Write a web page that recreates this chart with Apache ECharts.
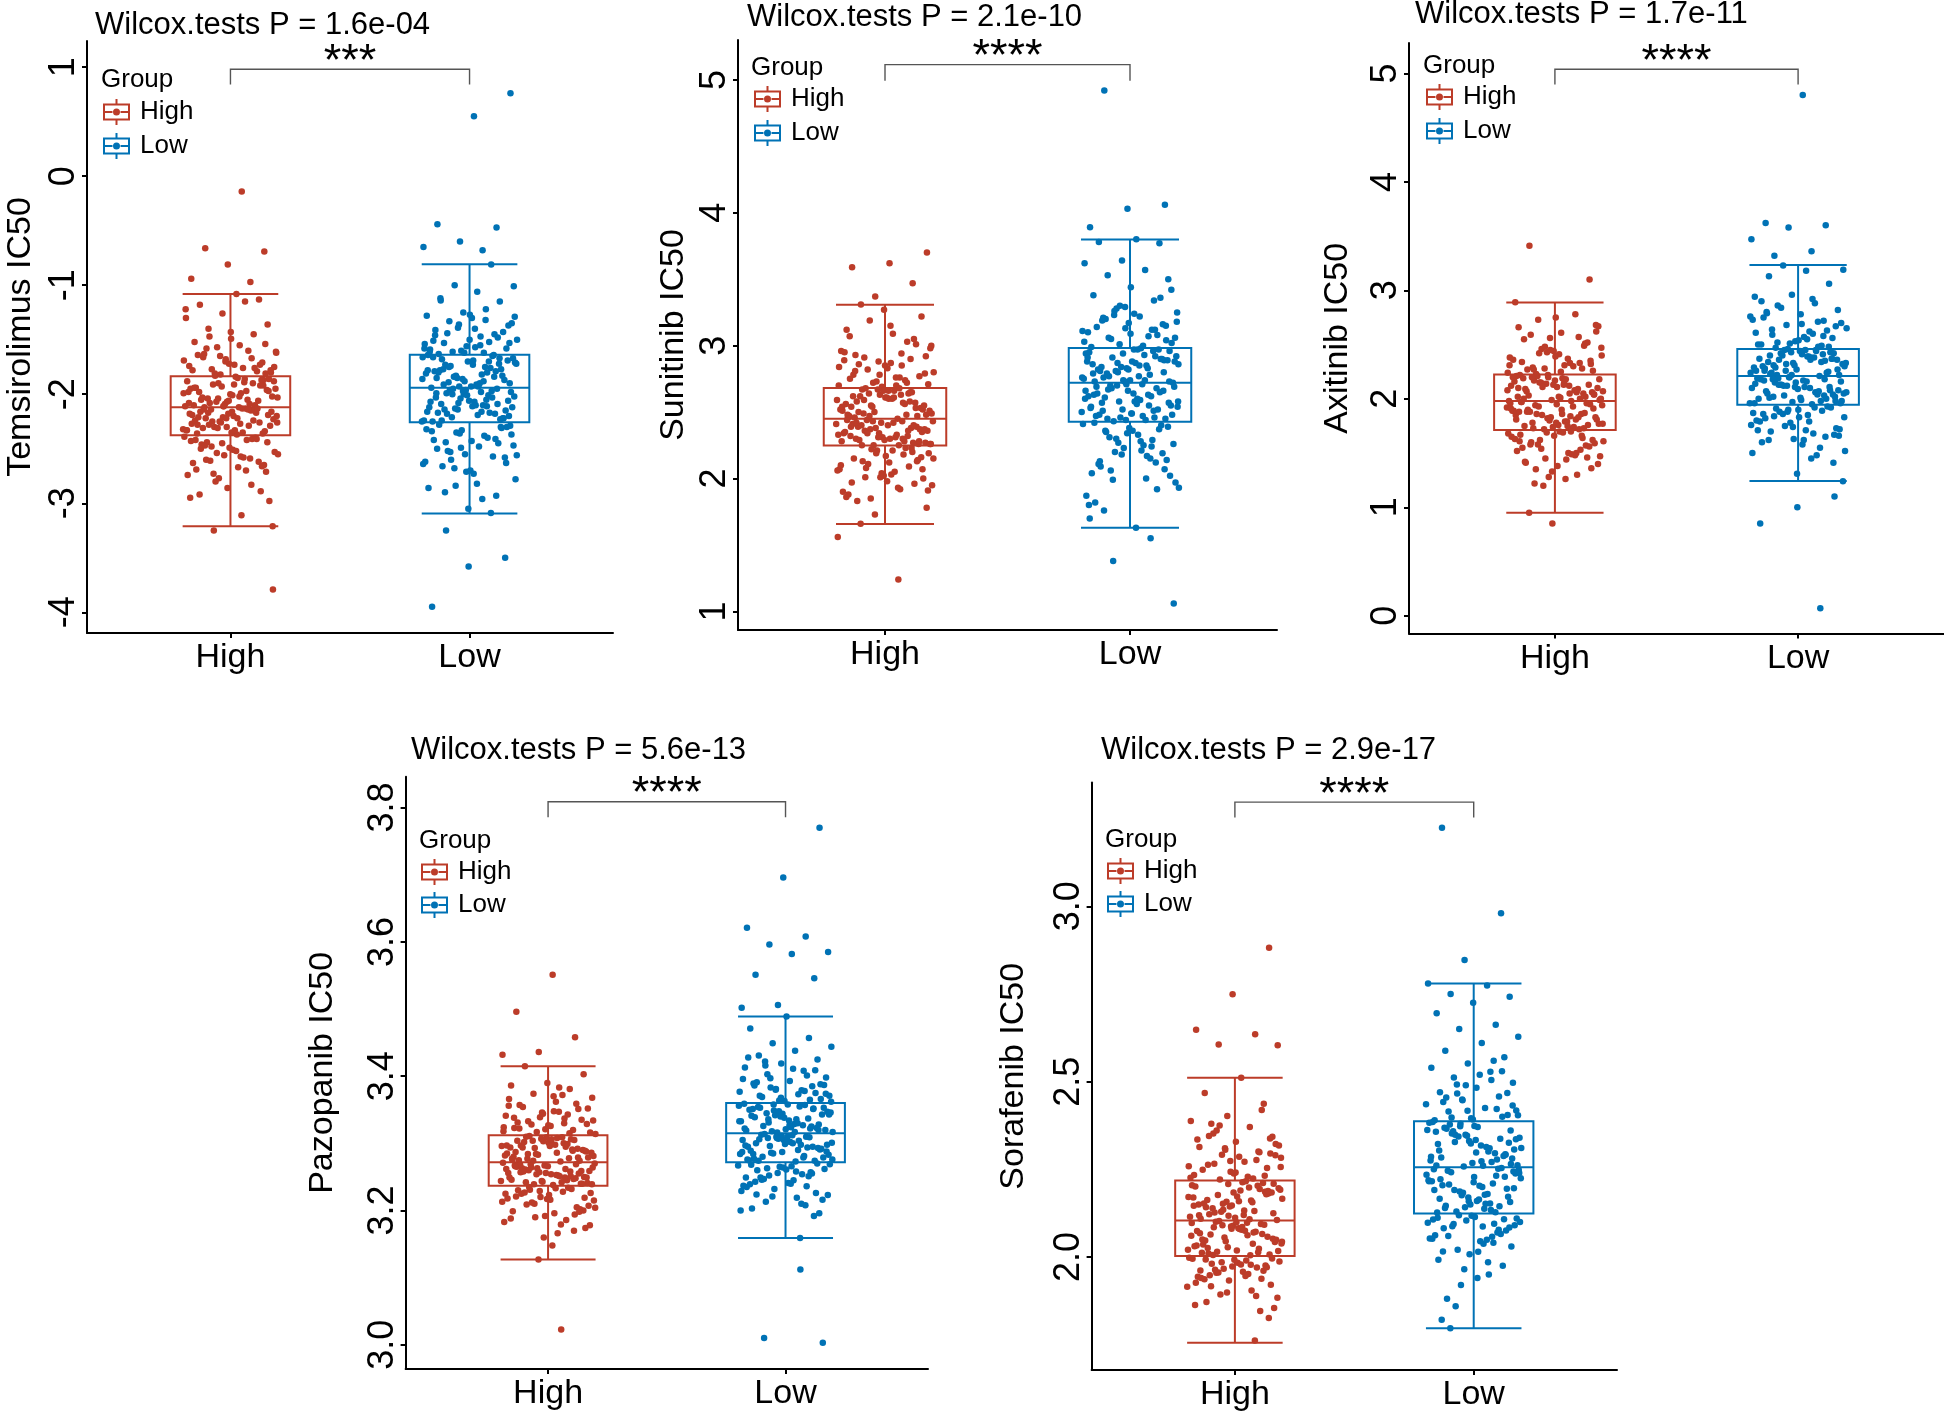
<!DOCTYPE html>
<html><head><meta charset="utf-8">
<script src="https://cdn.jsdelivr.net/npm/echarts@6/dist/echarts.min.js"></script>
<style>html,body{margin:0;padding:0;background:#fff}#c{width:1944px;height:1415px}</style>
</head><body><div id="c"></div>
<script>
// ---------- DATA ----------
const groups = ['High', 'Low'];
const drugs = ['Temsirolimus', 'Sunitinib', 'Axitinib', 'Pazopanib', 'Sorafenib'];
const pValues = ['1.6e-04', '2.1e-10', '1.7e-11', '5.6e-13', '2.9e-17'];
const stars = ['***', '****', '****', '****', '****'];

const temTicks = [-4, -3, -2, -1, 0, 1];
const sunTicks = [1, 2, 3, 4, 5];
const axiTicks = [0, 1, 2, 3, 4, 5];
const pazTicks = [3.0, 3.2, 3.4, 3.6, 3.8];
const sorTicks = [2.0, 2.5, 3.0];

// box stats: [min whisker, Q1, median, Q3, max whisker]
const temBox = [[-3.21, -2.377, -2.12, -1.834, -1.08], [-3.094, -2.257, -1.94, -1.638, -0.808]];
const sunBox = [[1.657, 2.249, 2.45, 2.682, 3.308], [1.629, 2.428, 2.72, 2.983, 3.798]];
const axiBox = [[0.951, 1.713, 1.979, 2.225, 2.889], [1.243, 1.945, 2.21, 2.46, 3.234]];
const pazBox = [[3.127, 3.237, 3.272, 3.312, 3.415], [3.159, 3.272, 3.315, 3.360, 3.489]];
const sorBox = [[1.756, 2.003, 2.104, 2.218, 2.511], [1.797, 2.124, 2.256, 2.387, 2.780]];

const temHigh = [-0.14,-0.66,-0.69,-0.81,-0.94,-0.97,-3.25,-3.79,
-1.08,-1.18,-1.13,-1.26,-1.30,-1.15,-1.40,-1.36,-1.49,-1.52,-1.45,-1.57,-1.62,-1.55,-1.66,-1.71,-1.68,-1.74,-1.60,-1.77,-1.80,-1.73,-1.64,-1.79,-1.82,-1.69,-1.76,-1.58,-1.81,-1.72,-1.78,-1.67,-1.83,-1.75,
-1.85,-2.05,-1.92,-2.11,-1.88,-1.97,-2.08,-1.86,-2.01,-1.94,-2.10,-1.90,-2.03,-1.99,-2.12,-1.87,-2.07,-1.95,-2.09,-1.91,-2.02,-1.84,-1.98,-2.06,-1.93,-2.11,-1.89,-2.04,-1.96,-2.00,-2.10,-1.90,-2.07,-1.95,-2.12,-2.03,-1.87,-2.09,-1.98,-2.05,
-2.14,-2.29,-2.20,-2.36,-2.17,-2.25,-2.32,-2.13,-2.22,-2.34,-2.18,-2.27,-2.15,-2.30,-2.23,-2.37,-2.16,-2.26,-2.21,-2.33,-2.13,-2.28,-2.19,-2.35,-2.24,-2.15,-2.31,-2.20,-2.27,-2.14,-2.36,-2.22,-2.18,-2.29,-2.25,-2.16,-2.33,-2.21,-2.13,-2.26,
-2.39,-2.58,-2.44,-2.71,-2.49,-2.63,-2.41,-2.80,-2.53,-2.67,-2.46,-2.89,-2.56,-2.74,-2.42,-2.61,-2.98,-2.51,-2.69,-2.40,-2.77,-2.55,-3.11,-2.47,-2.65,-2.86,-2.43,-2.59,-2.73,-3.21,-2.52,-2.92,-2.62,-2.45,
-1.22,-1.86,-2.17,-2.44,-1.43,-1.94,-2.24,-2.54,-1.61,-2.02,-2.31,-2.66,-1.70,-2.08,-2.14,-2.48,-1.78,-1.91,-2.28,-2.41,-1.65,-1.99,-2.35,-2.60,
-1.54,-2.06,-2.19,-2.83,-1.81,-1.88,-2.22,-2.50,-1.73,-2.11,-2.33,-2.70,-1.47,-1.97,-2.16,-2.42,-1.76,-2.04,-2.26,-2.57,-1.63,-1.92,-2.30,-2.95];
const temLow = [0.76,0.55,-0.44,-0.47,-0.60,-0.65,-0.68,-3.25,-3.50,-3.58,-3.95,
-0.81,-1.00,-1.01,-1.06,-1.14,-1.15,-1.25,-1.28,-1.22,-1.33,-1.37,-1.30,-1.41,-1.45,-1.39,-1.50,-1.47,-1.53,-1.43,-1.56,-1.59,-1.52,-1.61,-1.35,-1.57,-1.63,-1.48,-1.60,-1.54,-1.62,-1.44,-1.58,-1.27,-1.51,
-1.65,-1.83,-1.71,-1.92,-1.68,-1.77,-1.88,-1.64,-1.80,-1.74,-1.90,-1.69,-1.85,-1.79,-1.93,-1.66,-1.82,-1.73,-1.87,-1.70,-1.94,-1.76,-1.84,-1.67,-1.91,-1.78,-1.72,-1.86,-1.81,-1.75,-1.89,-1.69,-1.93,-1.79,-1.64,-1.85,-1.72,-1.90,-1.77,-1.83,
-1.96,-2.12,-2.01,-2.21,-1.98,-2.07,-2.17,-1.95,-2.04,-2.24,-2.10,-1.99,-2.15,-2.06,-2.25,-1.97,-2.13,-2.02,-2.19,-2.09,-2.23,-2.00,-2.16,-2.05,-1.96,-2.20,-2.11,-2.03,-2.18,-2.08,-2.25,-1.98,-2.14,-2.22,-2.01,-2.07,-2.17,-1.95,-2.12,-2.10,
-2.28,-2.45,-2.33,-2.62,-2.38,-2.52,-2.30,-2.70,-2.42,-2.57,-2.35,-2.78,-2.48,-2.66,-2.31,-2.55,-2.86,-2.40,-2.60,-2.29,-2.73,-2.50,-2.93,-2.36,-2.64,-2.96,-2.44,-2.58,-3.05,-2.34,-3.09,-2.68,-2.47,-2.82,
-1.12,-1.67,-1.97,-2.32,-1.32,-1.75,-2.06,-2.43,-1.46,-1.84,-2.14,-2.56,-1.55,-1.91,-2.22,-2.71,-1.61,-1.70,-2.00,-2.37,-1.40,-1.80,-2.09,-2.49,
-1.58,-1.88,-2.18,-2.63,-1.50,-1.66,-2.03,-2.84,-1.29,-1.93,-2.24,-2.30,-1.62,-1.78,-2.11,-2.53,-1.53,-1.73,-1.99,-2.41,-1.36,-1.86,-2.16,-2.90];

const sunHigh = [3.70,3.62,3.59,3.47,3.37,1.56,1.24,
3.31,3.22,3.27,3.12,3.03,3.19,2.98,3.09,2.93,3.01,2.88,2.96,2.85,2.91,2.79,2.83,2.75,2.90,2.72,2.80,2.70,2.86,2.77,2.69,2.95,2.74,2.82,2.71,2.87,2.78,3.05,2.73,2.84,2.76,
2.67,2.52,2.61,2.46,2.64,2.55,2.49,2.66,2.58,2.47,2.63,2.51,2.57,2.68,2.48,2.60,2.54,2.65,2.50,2.59,2.45,2.62,2.53,2.66,2.56,2.48,2.64,2.51,2.60,2.46,2.57,2.67,2.52,2.63,2.49,2.55,2.61,2.47,2.58,2.54,
2.43,2.31,2.39,2.26,2.42,2.34,2.28,2.44,2.36,2.30,2.41,2.27,2.38,2.33,2.25,2.40,2.35,2.29,2.44,2.32,2.37,2.26,2.42,2.30,2.39,2.34,2.28,2.43,2.36,2.27,2.40,2.32,2.38,2.25,2.41,2.33,2.29,2.37,2.31,2.35,
2.23,2.11,2.19,2.03,2.15,1.96,2.21,2.07,1.92,2.13,2.00,2.17,1.88,2.09,2.22,1.95,2.05,1.83,2.14,2.01,1.90,2.18,2.08,1.78,2.12,1.97,2.20,1.73,2.06,1.93,1.66,2.16,2.02,1.86,
2.72,2.47,2.26,2.21,2.81,2.53,2.31,2.10,2.94,2.59,2.37,1.98,3.07,2.65,2.43,2.15,2.76,2.50,2.28,2.04,2.89,2.56,2.34,1.91,
3.15,2.62,2.40,2.19,2.70,2.68,2.25,2.07,2.85,2.48,2.36,1.85,3.00,2.61,2.42,2.13,2.78,2.54,2.30,2.01,2.92,2.66,2.39,2.23];
const sunLow = [4.92,4.06,4.03,3.89,1.55,1.38,1.06,
3.80,3.78,3.77,3.64,3.62,3.57,3.53,3.50,3.44,3.38,3.34,3.28,3.25,3.22,3.19,3.16,3.13,3.10,3.07,3.05,3.02,3.24,3.14,3.08,3.30,3.11,3.00,3.20,3.04,3.17,2.99,3.12,3.26,3.06,
2.97,2.81,2.90,2.74,2.94,2.85,2.77,2.96,2.88,2.73,2.92,2.80,2.86,2.98,2.76,2.89,2.83,2.95,2.78,2.91,2.72,2.87,2.82,2.97,2.84,2.75,2.93,2.79,2.89,2.74,2.86,2.96,2.81,2.92,2.77,2.84,2.90,2.73,2.88,2.83,
2.70,2.55,2.64,2.47,2.68,2.58,2.50,2.71,2.61,2.45,2.66,2.53,2.62,2.43,2.69,2.56,2.48,2.65,2.52,2.60,2.44,2.67,2.57,2.49,2.63,2.46,2.70,2.54,2.59,2.51,2.66,2.44,2.62,2.55,2.68,2.48,2.58,2.64,2.52,2.46,
2.41,2.25,2.35,2.14,2.38,2.04,2.29,2.20,1.97,2.33,2.09,2.40,2.23,1.87,2.17,2.31,2.02,2.36,1.82,2.12,2.27,1.93,2.21,1.76,2.07,2.34,1.70,2.15,1.99,2.26,1.63,2.11,2.37,2.18,
3.03,2.74,2.45,2.39,3.09,2.79,2.51,2.30,3.18,2.85,2.57,2.19,3.29,2.91,2.63,2.06,3.42,2.97,2.69,1.92,3.01,2.76,2.47,2.36,
3.15,2.82,2.54,2.24,3.23,2.88,2.60,2.13,3.36,2.94,2.66,2.00,3.06,2.73,2.49,2.42,3.12,2.87,2.58,2.28,3.21,2.80,2.71,1.80];

const axiHigh = [3.41,3.10,0.85,
2.89,2.78,2.73,2.67,2.61,2.55,2.49,2.43,2.38,2.33,2.29,2.26,2.75,2.66,2.57,2.46,2.40,2.31,2.27,2.52,2.45,2.36,2.30,2.23,2.62,2.41,2.34,2.28,2.48,2.24,2.37,2.59,2.32,2.44,
2.21,2.06,2.15,1.99,2.19,2.09,2.02,2.20,2.12,1.98,2.17,2.04,2.11,2.22,2.00,2.14,2.07,2.18,2.03,2.13,1.99,2.16,2.08,2.21,2.10,2.01,2.19,2.05,2.14,1.98,2.12,2.20,2.06,2.17,2.02,2.09,2.15,2.00,2.13,2.07,
1.96,1.80,1.89,1.73,1.94,1.83,1.76,1.97,1.86,1.72,1.92,1.79,1.88,1.95,1.74,1.85,1.81,1.93,1.77,1.90,1.75,1.87,1.82,1.96,1.84,1.73,1.91,1.78,1.88,1.72,1.85,1.94,1.79,1.90,1.76,1.83,1.89,1.74,1.86,1.81,
1.70,1.55,1.64,1.45,1.68,1.50,1.60,1.36,1.66,1.52,1.30,1.62,1.47,1.69,1.41,1.57,1.28,1.65,1.49,1.22,1.59,1.38,1.67,1.53,1.20,1.61,1.44,0.95,1.56,1.33,1.63,1.48,1.58,1.40,
2.25,2.00,1.73,1.69,2.31,2.05,1.78,1.62,2.39,2.10,1.83,1.54,2.47,2.15,1.88,1.46,2.56,2.20,1.93,1.35,2.68,2.02,1.97,1.66,
2.28,2.08,1.75,1.58,2.35,2.13,1.81,1.50,2.42,2.18,1.86,1.42,2.51,2.22,1.91,1.70,2.27,2.04,1.95,1.61,2.33,2.11,1.77,1.26];
const axiLow = [4.80,3.62,3.60,3.58,3.47,3.36,3.32,1.10,1.00,0.85,0.07,
3.23,3.19,3.18,3.13,3.06,2.96,2.94,2.88,2.86,2.82,2.78,2.75,2.72,2.68,2.65,2.62,2.59,2.56,2.53,2.50,2.48,2.84,2.70,2.57,2.79,2.63,2.51,2.73,2.60,2.47,2.67,2.54,2.90,2.49,
2.45,2.30,2.39,2.23,2.43,2.33,2.26,2.44,2.36,2.22,2.41,2.28,2.35,2.46,2.24,2.38,2.31,2.42,2.27,2.37,2.21,2.40,2.32,2.45,2.34,2.25,2.43,2.29,2.38,2.22,2.36,2.44,2.30,2.41,2.26,2.33,2.39,2.24,2.37,2.31,
2.19,2.04,2.13,1.96,2.17,2.07,2.00,2.20,2.10,1.95,2.15,2.02,2.09,2.18,1.98,2.12,2.05,2.16,2.01,2.11,1.97,2.14,2.06,2.19,2.08,1.99,2.17,2.03,2.12,1.96,2.10,2.18,2.04,2.15,2.00,2.07,2.13,1.98,2.11,2.05,
1.93,1.78,1.87,1.68,1.91,1.73,1.83,1.60,1.89,1.75,1.52,1.85,1.70,1.92,1.63,1.80,1.48,1.88,1.72,1.58,1.82,1.65,1.90,1.76,1.45,1.84,1.67,1.31,1.79,1.55,1.86,1.24,1.71,1.62,
2.48,2.22,1.96,1.92,2.52,2.27,2.01,1.86,2.58,2.32,2.06,1.79,2.64,2.37,2.11,1.71,2.71,2.42,2.16,1.62,2.80,2.24,2.20,1.50,
2.92,2.29,1.98,1.90,2.50,2.34,2.03,1.83,2.55,2.40,2.08,1.74,2.61,2.45,2.13,1.66,2.69,2.26,2.18,1.88,2.76,2.36,2.02,1.41];

const pazHigh = [3.551,3.496,3.458,3.436,3.432,3.023,
3.415,3.403,3.390,3.386,3.381,3.374,3.368,3.362,3.357,3.351,3.346,3.341,3.337,3.333,3.329,3.326,3.323,3.320,3.317,3.314,3.383,3.354,3.335,3.321,3.366,3.343,3.328,3.316,3.348,3.331,3.359,3.339,3.324,3.372,
3.310,3.289,3.301,3.276,3.306,3.293,3.281,3.308,3.297,3.274,3.303,3.285,3.295,3.311,3.279,3.299,3.287,3.305,3.283,3.296,3.273,3.302,3.290,3.309,3.294,3.278,3.304,3.286,3.298,3.275,3.292,3.307,3.282,3.300,3.277,3.288,3.296,3.280,3.291,3.284,
3.270,3.252,3.263,3.240,3.267,3.256,3.245,3.269,3.259,3.238,3.265,3.248,3.257,3.271,3.242,3.261,3.250,3.266,3.246,3.258,3.239,3.264,3.253,3.268,3.255,3.243,3.262,3.249,3.260,3.241,3.254,3.267,3.247,3.263,3.244,3.251,3.258,3.240,3.256,3.249,
3.234,3.212,3.226,3.196,3.230,3.205,3.220,3.183,3.228,3.209,3.174,3.223,3.199,3.232,3.190,3.215,3.166,3.225,3.202,3.160,3.218,3.186,3.231,3.207,3.148,3.221,3.194,3.127,3.213,3.179,3.227,3.200,3.217,3.188,
3.315,3.274,3.239,3.233,3.322,3.279,3.244,3.225,3.330,3.284,3.249,3.216,3.338,3.289,3.254,3.204,3.347,3.294,3.259,3.192,3.356,3.299,3.264,3.178,
3.370,3.304,3.269,3.229,3.318,3.309,3.242,3.219,3.327,3.277,3.251,3.210,3.334,3.286,3.257,3.198,3.344,3.297,3.262,3.235,3.352,3.306,3.266,3.170];
const pazLow = [3.770,3.696,3.621,3.608,3.596,3.585,3.582,3.551,3.546,3.506,3.502,3.112,3.010,3.003,
3.489,3.471,3.457,3.449,3.444,3.438,3.431,3.425,3.419,3.413,3.408,3.403,3.398,3.393,3.389,3.385,3.381,3.377,3.373,3.369,3.366,3.363,3.428,3.401,3.383,3.371,3.411,3.391,3.375,3.364,3.396,3.379,3.416,3.387,
3.358,3.341,3.322,3.349,3.317,3.336,3.353,3.328,3.344,3.319,3.357,3.331,3.347,3.324,3.339,3.352,3.316,3.333,3.355,3.326,3.343,3.321,3.350,3.337,3.318,3.346,3.329,3.354,3.323,3.340,3.359,3.327,3.345,3.320,3.334,3.351,3.325,3.342,3.356,3.330,
3.313,3.291,3.305,3.276,3.310,3.296,3.283,3.312,3.300,3.274,3.307,3.287,3.298,3.314,3.279,3.303,3.289,3.309,3.285,3.301,3.273,3.306,3.293,3.311,3.297,3.281,3.308,3.288,3.302,3.277,3.295,3.310,3.284,3.304,3.280,3.292,3.299,3.275,3.294,3.286,
3.269,3.245,3.260,3.226,3.265,3.237,3.254,3.213,3.262,3.241,3.203,3.257,3.232,3.267,3.219,3.249,3.196,3.264,3.235,3.208,3.252,3.223,3.266,3.243,3.192,3.256,3.229,3.159,3.247,3.216,3.261,3.239,3.251,3.221,
3.362,3.317,3.274,3.270,3.368,3.322,3.279,3.263,3.374,3.327,3.284,3.255,3.380,3.333,3.290,3.246,3.388,3.338,3.295,3.236,3.397,3.343,3.300,3.224,
3.409,3.348,3.305,3.210,3.422,3.353,3.310,3.268,3.365,3.358,3.276,3.258,3.371,3.320,3.287,3.249,3.378,3.336,3.298,3.240,3.386,3.351,3.308,3.200];

const sorHigh = [2.882,2.749,2.648,2.635,2.606,2.604,
2.511,2.468,2.437,2.402,2.388,2.371,2.352,2.343,2.329,2.314,2.301,2.292,2.283,2.272,2.263,2.254,2.243,2.234,2.224,2.361,2.322,2.286,2.249,2.419,2.306,2.259,2.229,2.380,2.295,2.238,2.335,2.277,2.221,2.318,
2.213,2.142,2.186,2.118,2.205,2.161,2.127,2.209,2.173,2.109,2.194,2.135,2.166,2.216,2.122,2.181,2.147,2.201,2.131,2.177,2.106,2.190,2.153,2.211,2.158,2.115,2.198,2.139,2.184,2.112,2.150,2.203,2.129,2.192,2.120,2.163,2.179,2.144,2.170,2.156,
2.101,2.043,2.082,2.012,2.094,2.056,2.021,2.098,2.064,2.007,2.089,2.033,2.072,2.103,2.017,2.078,2.047,2.092,2.028,2.061,2.005,2.085,2.052,2.099,2.068,2.024,2.091,2.039,2.075,2.010,2.058,2.087,2.031,2.070,2.015,2.049,2.080,2.036,2.066,2.045,
1.998,1.952,1.981,1.921,1.992,1.944,1.970,1.893,1.987,1.958,1.872,1.976,1.933,1.995,1.905,1.964,1.855,1.984,1.940,1.846,1.967,1.915,1.990,1.948,1.826,1.973,1.927,1.762,1.956,1.884,1.979,1.937,1.961,1.899,
2.226,2.108,2.006,1.996,2.241,2.119,2.014,1.985,2.257,2.133,2.026,1.971,2.274,2.146,2.038,1.955,2.290,2.159,2.050,1.938,2.310,2.171,2.062,1.917,
2.338,2.184,2.074,1.889,2.375,2.196,2.086,1.993,2.232,2.208,2.097,1.978,2.266,2.125,2.019,1.962,2.299,2.152,2.044,1.946,2.345,2.188,2.081,1.863];
const sorLow = [3.224,2.980,2.847,
2.780,2.774,2.750,2.742,2.725,2.695,2.662,2.650,2.628,2.610,2.588,2.570,2.552,2.540,2.528,2.512,2.497,2.483,2.470,2.458,2.447,2.436,2.425,2.415,2.405,2.396,2.390,2.560,2.466,2.418,2.520,2.442,2.400,2.490,
2.383,2.301,2.352,2.265,2.374,2.322,2.278,2.380,2.340,2.260,2.366,2.292,2.331,2.385,2.271,2.349,2.307,2.371,2.284,2.337,2.258,2.362,2.314,2.378,2.326,2.268,2.357,2.296,2.344,2.262,2.318,2.369,2.288,2.346,2.275,2.310,2.359,2.281,2.334,2.304,
2.252,2.176,2.225,2.138,2.246,2.195,2.150,2.250,2.210,2.130,2.238,2.164,2.205,2.254,2.142,2.219,2.180,2.242,2.157,2.213,2.127,2.232,2.187,2.248,2.200,2.146,2.229,2.170,2.216,2.134,2.191,2.244,2.160,2.222,2.145,2.183,2.235,2.152,2.207,2.172,
2.118,2.062,2.095,2.021,2.110,2.045,2.082,1.975,2.104,2.053,1.950,2.088,2.030,2.114,1.992,2.070,1.920,2.100,2.038,1.881,2.076,2.008,2.107,2.058,1.860,2.091,2.015,1.821,2.066,1.965,2.098,2.049,1.797,2.084,
2.392,2.261,2.128,2.119,2.404,2.273,2.140,2.108,2.417,2.286,2.153,2.094,2.432,2.298,2.166,2.078,2.449,2.311,2.178,2.060,2.468,2.324,2.191,2.041,
2.492,2.336,2.203,2.016,2.530,2.349,2.216,1.985,2.398,2.361,2.228,2.112,2.422,2.373,2.240,2.087,2.455,2.293,2.159,2.052,2.505,2.328,2.196,1.940];

// ---------- LAYOUT / STYLE ----------
const RED = '#BC3C29', BLUE = '#0072B5';
const COLORS = [RED, BLUE];
const FONT = '"Liberation Sans", Arial, Helvetica, sans-serif';
const GLYPH = 'path://M0 4.5H27V21.5H0Z M2 6.5V19.5H25V6.5Z M12.5 0H14.5V4.5H12.5Z M12.5 21.5H14.5V26H12.5Z M2 12H9.5V14H2Z M17.5 12H25V14H17.5Z M10 13A3.5 3.5 0 1 0 17 13A3.5 3.5 0 1 0 10 13Z';

const panelData = [
  {vals: [temHigh, temLow], box: temBox, ticks: temTicks, dec: 0},
  {vals: [sunHigh, sunLow], box: sunBox, ticks: sunTicks, dec: 0},
  {vals: [axiHigh, axiLow], box: axiBox, ticks: axiTicks, dec: 0},
  {vals: [pazHigh, pazLow], box: pazBox, ticks: pazTicks, dec: 1},
  {vals: [sorHigh, sorLow], box: sorBox, ticks: sorTicks, dec: 1}
];
const layouts = [
  {grid:{left:87, top:41, width:526, height:592}, y:[-4.19, 1.24], nameGap:49, title:[95, 10], legend:[103, 99, 8], group:[101, 67], bracket:[0.981, 0.842]},
  {grid:{left:738, top:40, width:539, height:590}, y:[0.86, 5.30], nameGap:47, title:[747, 2.5], legend:[754, 86, 8], group:[751, 55], bracket:[5.115, 4.994]},
  {grid:{left:1409, top:43, width:535, height:590.5}, y:[-0.163, 5.28], nameGap:54, title:[1415, -0.5], legend:[1426, 84, 8], group:[1423, 53], bracket:[5.038, 4.898]},
  {grid:{left:405.6, top:776.7, width:522.4, height:592.3}, y:[2.964, 3.846], nameGap:66, title:[411, 735], legend:[421, 859, 7], group:[419, 828], bracket:[3.8086, 3.7855]},
  {grid:{left:1091.6, top:782.5, width:525.4, height:587.5}, y:[1.678, 3.353], nameGap:61, title:[1101, 735.5], legend:[1107, 858, 7], group:[1105, 827], bracket:[3.297, 3.253]}
];

function jitter(i, g) {
  const u = ((i + 1) * 0.6180339887498949 + g * 0.31) % 1;
  return (u - 0.5) * 0.4;
}

const option = {animation: false, backgroundColor: '#fff', grid: [], xAxis: [], yAxis: [], series: [], title: [], legend: []};

panelData.forEach((pd, k) => {
  const L = layouts[k];
  option.grid.push(Object.assign({outerBoundsMode: 'none', containLabel: false}, L.grid));
  option.xAxis.push({
    type: 'value', gridIndex: k, min: 0.4, max: 2.6,
    axisLine: {onZero: false, lineStyle: {color: '#000', width: 2}},
    axisTick: {customValues: [1, 2], length: 5, lineStyle: {color: '#000', width: 2}},
    axisLabel: {customValues: [1, 2], formatter: v => groups[Math.round(v) - 1] || '', fontSize: 34, fontFamily: FONT, color: '#000', margin: 8},
    splitLine: {show: false}
  });
  option.yAxis.push({
    type: 'value', gridIndex: k, min: L.y[0], max: L.y[1],
    name: drugs[k] + ' IC50', nameLocation: 'middle', nameRotate: 90, nameGap: L.nameGap,
    nameTextStyle: {fontSize: 34, fontFamily: FONT, color: '#000'},
    axisLine: {show: true, onZero: false, lineStyle: {color: '#000', width: 2}},
    axisTick: {show: true, customValues: pd.ticks, length: 5, lineStyle: {color: '#000', width: 2}},
    axisLabel: {customValues: pd.ticks, rotate: 90, fontSize: 36, fontFamily: FONT, color: '#000', margin: 5,
      formatter: v => Number(v).toFixed(pd.dec)},
    splitLine: {show: false}
  });
  option.title.push({text: 'Wilcox.tests P = ' + pValues[k], left: L.title[0], top: L.title[1], padding: 0,
    textStyle: {fontSize: 31, fontWeight: 'normal', color: '#000', fontFamily: FONT, lineHeight: 30}});
  option.title.push({text: 'Group', left: L.group[0], top: L.group[1], padding: 0,
    textStyle: {fontSize: 26, fontWeight: 'normal', color: '#000', fontFamily: FONT, lineHeight: 26}});
  option.legend.push({
    left: L.legend[0], top: L.legend[1], orient: 'vertical', padding: 0, itemGap: L.legend[2],
    itemWidth: 27, itemHeight: 26, selectedMode: false,
    textStyle: {fontSize: 26, fontFamily: FONT, color: '#000', lineHeight: 26, padding: [0, 0, 0, 5]},
    data: groups.map((g, gi) => ({name: g, icon: GLYPH, itemStyle: {color: COLORS[gi], borderWidth: 0}}))
  });

  groups.forEach((g, gi) => {
    const col = COLORS[gi];
    // jittered points
    option.series.push({
      type: 'scatter', name: g, xAxisIndex: k, yAxisIndex: k, z: 3,
      symbol: 'circle', symbolSize: 6.5,
      itemStyle: {color: col, opacity: 1},
      data: pd.vals[gi].map((v, i) => [gi + 1 + jitter(i, gi + k), v])
    });
    // box + whiskers
    option.series.push({
      type: 'custom', name: g, xAxisIndex: k, yAxisIndex: k, z: 2,
      itemStyle: {color: col},
      data: [[gi + 1].concat(pd.box[gi])],
      encode: {x: 0, y: [1, 2, 3, 4, 5]},
      renderItem: (params, api) => {
        const x = api.value(0);
        const mn = api.value(1), q1 = api.value(2), md = api.value(3), q3 = api.value(4), mx = api.value(5);
        const tl = api.coord([x - 0.25, q3]), br = api.coord([x + 0.25, q1]);
        const m1 = api.coord([x - 0.25, md]), m2 = api.coord([x + 0.25, md]);
        const wTop = api.coord([x, mx]), wQ3 = api.coord([x, q3]), wQ1 = api.coord([x, q1]), wBot = api.coord([x, mn]);
        const cT1 = api.coord([x - 0.2, mx]), cT2 = api.coord([x + 0.2, mx]);
        const cB1 = api.coord([x - 0.2, mn]), cB2 = api.coord([x + 0.2, mn]);
        const st = {stroke: col, lineWidth: 2, fill: 'none'};
        const line = (a, b) => ({type: 'line', shape: {x1: a[0], y1: a[1], x2: b[0], y2: b[1]}, style: st});
        return {type: 'group', children: [
          line(wTop, wQ3), line(wQ1, wBot), line(cT1, cT2), line(cB1, cB2),
          {type: 'rect', shape: {x: tl[0], y: tl[1], width: br[0] - tl[0], height: br[1] - tl[1]}, style: st},
          line(m1, m2)
        ]};
      }
    });
  });

  // significance bracket
  option.series.push({
    type: 'custom', name: 'sig' + k, xAxisIndex: k, yAxisIndex: k, z: 2,
    data: [[1, 2, L.bracket[0], L.bracket[1]]],
    encode: {x: [0, 1], y: [2, 3]},
    renderItem: (params, api) => {
      const a = api.coord([api.value(0), api.value(3)]);
      const b = api.coord([api.value(0), api.value(2)]);
      const c = api.coord([api.value(1), api.value(2)]);
      const d = api.coord([api.value(1), api.value(3)]);
      return {type: 'group', children: [
        {type: 'polyline', shape: {points: [a, b, c, d]}, style: {stroke: '#555', lineWidth: 1.4, fill: 'none'}},
        {type: 'text', x: (b[0] + c[0]) / 2, y: b[1] - 7,
          style: {text: stars[k], fontSize: 45, fontFamily: FONT, fill: '#000', align: 'center', verticalAlign: 'middle'}}
      ]};
    }
  });
});

const chart = echarts.init(document.getElementById('c'), null, {renderer: 'canvas'});
chart.setOption(option);
</script>
</body></html>
